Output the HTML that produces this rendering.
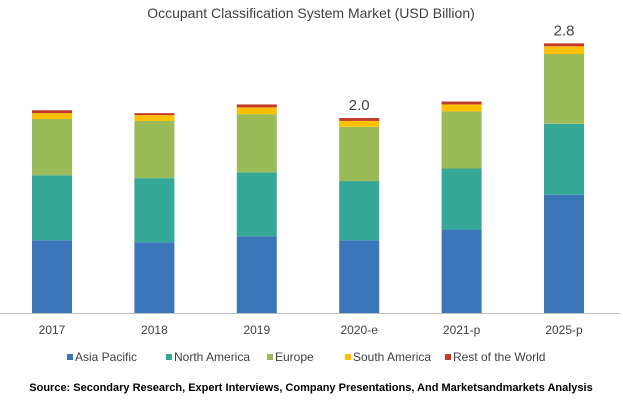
<!DOCTYPE html>
<html><head><meta charset="utf-8"><style>
body{margin:0;background:#fff;font-family:"Liberation Sans",sans-serif}
</style></head><body>
<svg id="c" width="623" height="401" xmlns="http://www.w3.org/2000/svg">
<text x="311" y="18" text-anchor="middle" font-size="14" fill="#404040">Occupant Classification System Market (USD Billion)</text>
<line x1="0" y1="313.5" x2="620" y2="313.5" stroke="#bfbfbf"/>
<text x="311" y="391" text-anchor="middle" font-size="11" font-weight="bold" fill="#000">Source: Secondary Research, Expert Interviews, Company Presentations, And Marketsandmarkets Analysis</text>
</svg>
<script>
const categories=["2017","2018","2019","2020-e","2021-p","2025-p"];
const seriesNames=["Asia Pacific","North America","Europe","South America","Rest of the World"];
const asiaPacific=[0.75,0.73,0.79,0.75,0.86,1.22];
const northAmerica=[0.67,0.66,0.66,0.61,0.63,0.73];
const europe=[0.58,0.59,0.60,0.56,0.59,0.72];
const southAmerica=[0.06,0.06,0.07,0.06,0.07,0.08];
const restOfWorld=[0.03,0.02,0.03,0.03,0.03,0.03];
const totalLabels=["","","","2.0","","2.8"];
const colors=["#3b77b8","#36a897","#9bbb59","#ffc000","#c0392b"];
const series=[asiaPacific,northAmerica,europe,southAmerica,restOfWorld];
const svg=document.getElementById('c');const NS="http://www.w3.org/2000/svg";
const base=313,scale=97;
const y=v=>base-v*scale;
const xc=i=>52+i*102.4;
function mk(t,a){const e=document.createElementNS(NS,t);for(const k in a)e.setAttribute(k,a[k]);svg.appendChild(e);return e;}
categories.forEach((c,i)=>{
  let cum=0;
  series.forEach((s,j)=>{
    const r=mk('rect',{x:xc(i)-20,y:y(cum+s[i]),width:40,height:s[i]*scale,fill:colors[j]});
    
    
    cum+=s[i];
  });
  const t=mk('text',{x:xc(i),y:334,'text-anchor':'middle','font-size':12,fill:'#404040'});
  t.textContent=c;
  
  
  if(totalLabels[i]){
    const l=mk('text',{x:xc(i),y:y(cum)-8,'text-anchor':'middle','font-size':15,fill:'#404040'});
    l.textContent=totalLabels[i];
    
    
  }
});
const lx=[67,166,267,345,445];
seriesNames.forEach((n,j)=>{
  const r=mk('rect',{x:lx[j],y:354,width:6,height:6,fill:colors[j]});
  
  
  const t=mk('text',{x:lx[j]+8,y:361,'font-size':12,fill:'#404040'});
  t.textContent=n;
  
  
});
</script>
</body></html>
